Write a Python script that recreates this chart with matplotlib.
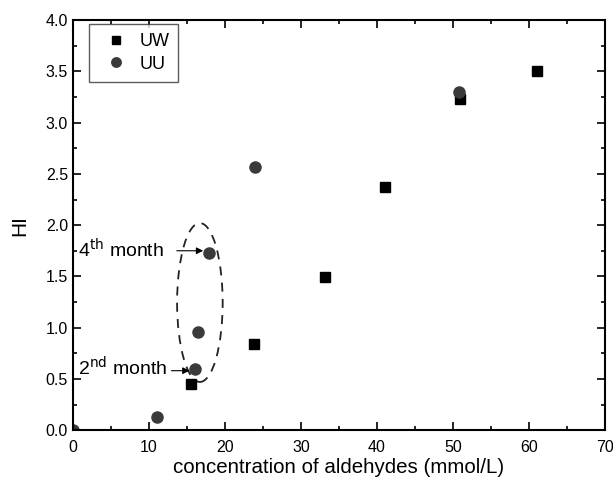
import matplotlib
matplotlib.use("Agg")
import matplotlib.pyplot as plt
from matplotlib.patches import Ellipse
from matplotlib.ticker import MultipleLocator, FormatStrFormatter

plt.rcParams['font.family'] = ['Liberation Sans', 'DejaVu Sans']

uw_x = [15.5, 23.8, 33.2, 41.0, 50.9, 61.1]
uw_y = [0.45, 0.84, 1.49, 2.37, 3.23, 3.50]
uu_x = [0.0, 11.05, 16.1, 16.5, 17.9, 23.9, 50.8]
uu_y = [0.0, 0.13, 0.60, 0.96, 1.73, 2.57, 3.30]

xlabel = "concentration of aldehydes (mmol/L)"
ylabel = "HI"

fig = plt.figure(figsize=(6.13, 4.79), dpi=100)
ax = fig.add_axes([0.119, 0.102, 0.868, 0.856])

ax.plot(uw_x, uw_y, 's', color='black', markersize=7, label='UW', linestyle='none')
ax.plot(uu_x, uu_y, 'o', color='#3a3a3a', markersize=8, label='UU', linestyle='none')

ax.set_xlim(0, 70)
ax.set_ylim(0, 4.0)
ax.xaxis.set_major_locator(MultipleLocator(10))
ax.xaxis.set_minor_locator(MultipleLocator(5))
ax.yaxis.set_major_locator(MultipleLocator(0.5))
ax.yaxis.set_minor_locator(MultipleLocator(0.25))
ax.yaxis.set_major_formatter(FormatStrFormatter('%.1f'))
ax.tick_params(which='both', direction='in', top=True, right=True, width=1.2, labelsize=11.5)
ax.tick_params(which='major', length=6)
ax.tick_params(which='minor', length=3)
ax.tick_params(axis='x', which='major', pad=7)
for s in ax.spines.values():
    s.set_linewidth(1.5)

ax.set_xlabel(xlabel, fontsize=14.8, labelpad=2)
ax.set_ylabel(ylabel, fontsize=15, labelpad=12)

ell = Ellipse((16.7, 1.245), 6.0, 1.55, fill=False, linestyle=(0, (5, 4)),
              edgecolor='#222222', linewidth=1.3)
ax.add_patch(ell)

ax.annotate('', xy=(17.5, 1.75), xytext=(13.3, 1.75),
            arrowprops=dict(arrowstyle='-|>', color='black', lw=0.8, mutation_scale=10))
ax.text(0.7, 1.76, r'4$^{\mathrm{th}}$ month', fontsize=14, va='center', ha='left')
ax.annotate('', xy=(15.7, 0.58), xytext=(12.6, 0.58),
            arrowprops=dict(arrowstyle='-|>', color='black', lw=0.8, mutation_scale=10))
ax.text(0.7, 0.61, r'2$^{\mathrm{nd}}$ month', fontsize=14, va='center', ha='left')

leg = ax.legend(loc='upper left', bbox_to_anchor=(0.03, 0.99), borderaxespad=0,
                fontsize=13, frameon=True, fancybox=False, edgecolor='#333333',
                handletextpad=0.3, borderpad=0.5, labelspacing=0.3, handlelength=2.0,
                markerscale=0.85)
leg.get_frame().set_linewidth(1.0)

fig.savefig('out.png', dpi=100)
